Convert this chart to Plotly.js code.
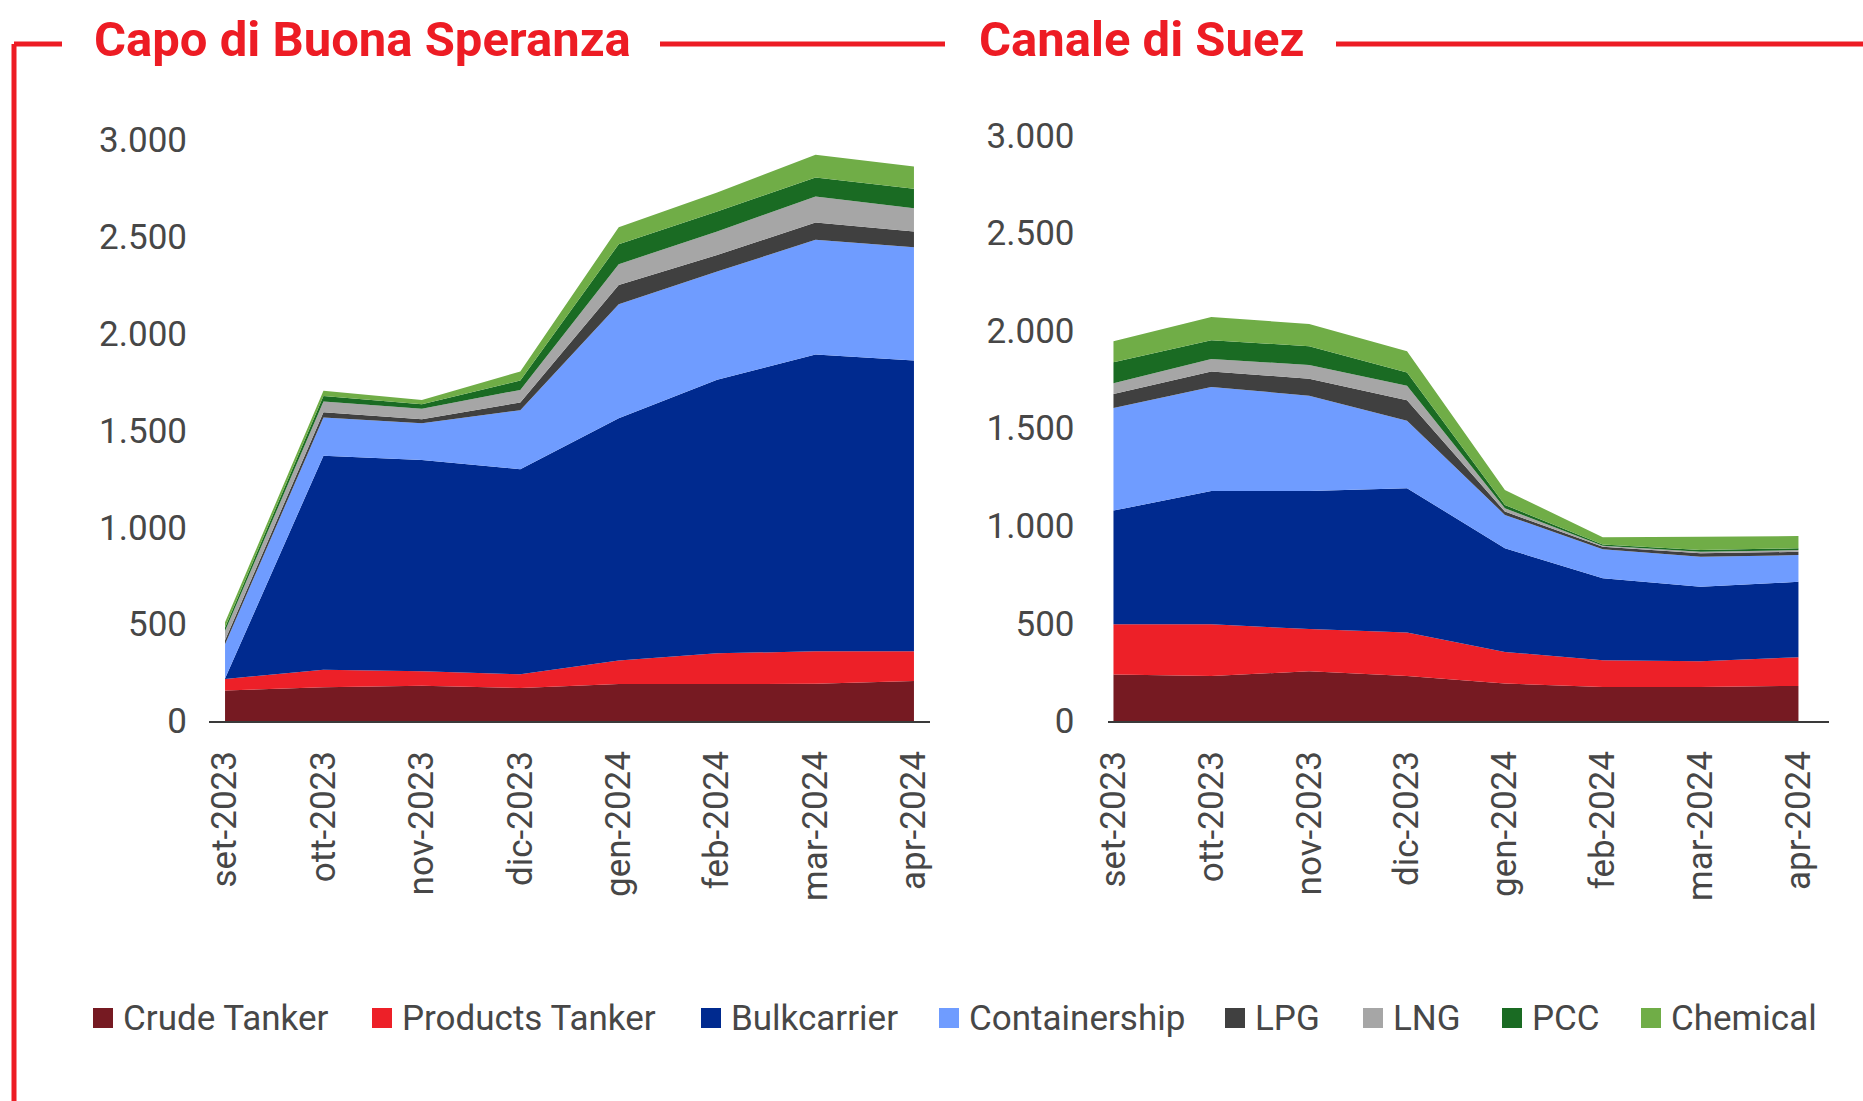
<!DOCTYPE html>
<html>
<head>
<meta charset="utf-8">
<script src="https://cdn.plot.ly/plotly-3.0.1.min.js"></script>
<style>
  html, body { margin:0; padding:0; background:#fff; overflow:hidden; }
  #chart { width:1863px; height:1101px; }
</style>
</head>
<body>
<div id="chart"></div>
<script>
// Navi in transito: Capo di Buona Speranza vs Canale di Suez (set-2023 .. apr-2024)
const months = ['set-2023','ott-2023','nov-2023','dic-2023','gen-2024','feb-2024','mar-2024','apr-2024'];
const seriesNames = ['Crude Tanker','Products Tanker','Bulkcarrier','Containership','LPG','LNG','PCC','Chemical'];

// Capo di Buona Speranza
const capoCrude     = [158, 175, 182, 170, 191, 191, 192, 207];
const capoProducts  = [ 59,  90,  75,  71, 121, 159, 168, 153];
const capoBulk      = [  3,1105,1091,1059,1252,1412,1533,1502];
const capoContainer = [177, 198, 190, 305, 588, 559, 592, 585];
const capoLPG       = [ 20,  27,  20,  40, 100,  86,  89,  81];
const capoLNG       = [ 48,  55,  54,  65, 107, 121, 135, 120];
const capoPCC       = [ 18,  29,  24,  48, 103, 103,  98, 100];
const capoChemical  = [ 27,  26,  22,  47,  88,  98, 117, 116];

// Canale di Suez
const suezCrude     = [238, 231, 255, 231, 192, 175, 175, 180];
const suezProducts  = [258, 265, 216, 222, 162, 136, 131, 147];
const suezBulk      = [582, 683, 708, 740, 531, 420, 382, 386];
const suezContainer = [525, 532, 488, 345, 171, 149, 154, 137];
const suezLPG       = [ 72,  80,  87, 105,  17,  13,  17,  17];
const suezLNG       = [ 56,  64,  70,  75,  17,   5,   8,   9];
const suezPCC       = [107,  96,  96,  68,  17,   7,   9,   9];
const suezChemical  = [107, 119, 114, 108,  77,  36,  68,  63];

const colors = ['#761A22','#ED2028','#002A8F','#6F9CFF','#404040','#A6A6A6','#1A6B23','#70AD47'];

const W = 1863, H = 1101;
const RED = '#ED1C24';
const TXT = '#474747';
const FONT = 'Roboto, Arial, sans-serif';

const capo = [capoCrude, capoProducts, capoBulk, capoContainer, capoLPG, capoLNG, capoPCC, capoChemical];
const suez = [suezCrude, suezProducts, suezBulk, suezContainer, suezLPG, suezLNG, suezPCC, suezChemical];

function areaTraces(sets, xa, ya, group){
  return sets.map((vals, i) => ({
    type:'scatter', mode:'lines', x:months, y:vals, name:seriesNames[i],
    stackgroup:group, xaxis:xa, yaxis:ya,
    line:{width:0, color:colors[i]}, fillcolor:colors[i],
    showlegend:false, hoverinfo:'x+y+name'
  }));
}

const traces = [...areaTraces(capo,'x','y','capo'), ...areaTraces(suez,'x2','y2','suez')];

const px = v => v / W;
const py = v => (H - v) / H;

const xBase = {
  type:'category', showgrid:false, zeroline:false, showline:true,
  linecolor:'#3a3a3a', linewidth:2, ticks:'', tickangle:-90,
  tickfont:{family:FONT, size:35, color:TXT}, ticklabelstandoff:14, fixedrange:true
};
const yBase = {
  range:[0,3000], dtick:500, tickformat:',.0f', showgrid:false, zeroline:false,
  showline:false, ticks:'', tickfont:{family:FONT, size:35, color:TXT}, fixedrange:true
};

// red frame lines around the two titles
const shapes = [
  [14, 44, 62, 44], [14, 44, 14, H], [660, 44, 945, 44], [1336, 44, W, 44]
].map(([x0,y0,x1,y1]) => ({
  type:'line', xref:'paper', yref:'paper', x0:px(x0), y0:py(y0), x1:px(x1), y1:py(y1),
  line:{color:RED, width:5}
}));

const annotations = [
  {text:'Capo di Buona Speranza', x:px(92), y:py(40)},
  {text:'Canale di Suez', x:px(977), y:py(40)}
].map(a => ({
  ...a, xref:'paper', yref:'paper', xanchor:'left', yanchor:'middle', showarrow:false,
  font:{family:FONT, size:49, color:RED, weight:700}
}));

// legend: square swatch + label
const legendX = [93, 372, 701, 939, 1225, 1363, 1502, 1641];
const legendY = 1018, sq = 20;
seriesNames.forEach((name, i) => {
  shapes.push({type:'rect', xref:'paper', yref:'paper',
    x0:px(legendX[i]), x1:px(legendX[i]+sq), y0:py(legendY+sq/2), y1:py(legendY-sq/2),
    fillcolor:colors[i], line:{width:0}});
  annotations.push({text:name, xref:'paper', yref:'paper', x:px(legendX[i]+28), y:py(legendY),
    xanchor:'left', yanchor:'middle', showarrow:false, font:{family:FONT, size:35, color:TXT}});
});

const layout = {
  width:W, height:H, autosize:false,
  margin:{l:0, r:0, t:0, b:0},
  paper_bgcolor:'#fff', plot_bgcolor:'rgba(0,0,0,0)',
  separators:',.',
  showlegend:false,
  xaxis:{...xBase, domain:[px(209), px(930)], range:[-0.163, 7.163], anchor:'y'},
  yaxis:{...yBase, domain:[0.3451, 0.8728], anchor:'x', ticklabelstandoff:21},
  xaxis2:{...xBase, domain:[px(1107.5), px(1828.5)], range:[-0.061, 7.307], anchor:'y2'},
  yaxis2:{...yBase, domain:[0.3451, 0.8770], anchor:'x2', ticklabelstandoff:32},
  shapes, annotations
};

Plotly.newPlot('chart', traces, layout, {displayModeBar:false, staticPlot:true});
</script>
</body>
</html>
